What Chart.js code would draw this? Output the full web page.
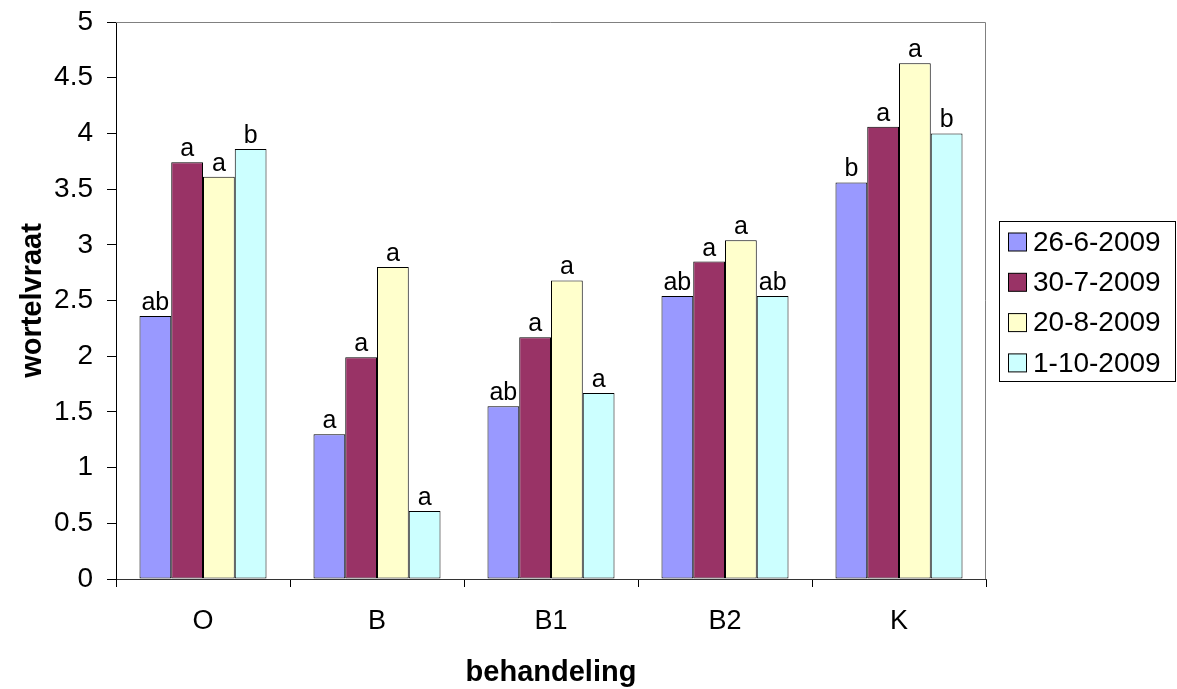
<!DOCTYPE html>
<html>
<head>
<meta charset="utf-8">
<script src="https://cdn.jsdelivr.net/npm/chart.js@4"></script>
<style>
html,body{margin:0;padding:0;background:#fff;}
canvas{display:block;}
</style>
</head>
<body>
<canvas id="c" width="1177" height="689"></canvas>
<script>
const categories = ['O', 'B', 'B1', 'B2', 'K'];
const seriesNames = ['26-6-2009', '30-7-2009', '20-8-2009', '1-10-2009'];
const s1 = [2.36, 1.30, 1.55, 2.54, 3.56];
const s2 = [3.74, 1.99, 2.17, 2.85, 4.06];
const s3 = [3.61, 2.80, 2.68, 3.04, 4.63];
const s4 = [3.86, 0.61, 1.67, 2.54, 4.00];
const letters1 = ['ab', 'a', 'ab', 'ab', 'b'];
const letters2 = ['a', 'a', 'a', 'a', 'a'];
const letters3 = ['a', 'a', 'a', 'a', 'a'];
const letters4 = ['b', 'a', 'a', 'ab', 'b'];
const yTicks = [0, 0.5, 1, 1.5, 2, 2.5, 3, 3.5, 4, 4.5, 5];

const colors = ['#9999FF', '#993366', '#FFFFCC', '#CCFFFF'];
const allSeries = [s1, s2, s3, s4];
const allLetters = [letters1, letters2, letters3, letters4];
const FONT = "'Liberation Sans', Arial, sans-serif";

const extras = {
  id: 'extras',
  beforeDraw(chart) {
    const ctx = chart.ctx;
    ctx.save();
    ctx.fillStyle = '#fff';
    ctx.fillRect(0, 0, chart.width, chart.height);
    ctx.restore();
  },
  afterDatasetsDraw(chart) {
    const ctx = chart.ctx;
    const a = chart.chartArea;
    ctx.save();
    // plot border top/right
    ctx.strokeStyle = '#808080';
    ctx.lineWidth = 1;
    ctx.beginPath();
    ctx.moveTo(a.left, a.top + 0.5);
    ctx.lineTo(a.right - 0.5, a.top + 0.5);
    ctx.lineTo(a.right - 0.5, a.bottom);
    ctx.stroke();
    // data letters
    ctx.fillStyle = '#000';
    ctx.font = '25px ' + FONT;
    ctx.textAlign = 'center';
    ctx.textBaseline = 'alphabetic';
    chart.data.datasets.forEach((ds, i) => {
      const meta = chart.getDatasetMeta(i);
      meta.data.forEach((bar, j) => {
        ctx.fillText(allLetters[i][j], bar.x, bar.y - 6);
      });
    });
    // axis titles
    ctx.font = 'bold 29px ' + FONT;
    ctx.textAlign = 'center';
    ctx.textBaseline = 'alphabetic';
    ctx.fillText('behandeling', (a.left + a.right) / 2, 681);
    ctx.save();
    ctx.translate(41, (a.top + a.bottom) / 2);
    ctx.rotate(-Math.PI / 2);
    ctx.fillText('wortelvraat', 0, 0);
    ctx.restore();
    // legend
    const lx = 999.5, ly = 221.5, lw = 176, lh = 160;
    ctx.strokeStyle = '#000';
    ctx.lineWidth = 1;
    ctx.strokeRect(lx, ly, lw, lh);
    ctx.font = '28px ' + FONT;
    ctx.textAlign = 'left';
    ctx.textBaseline = 'middle';
    chart.data.datasets.forEach((ds, i) => {
      const cy = 242 + i * 40.3;
      ctx.fillStyle = ds.backgroundColor;
      ctx.fillRect(1008.5, cy - 9, 18, 18);
      ctx.strokeRect(1008.5, cy - 9, 18, 18);
      ctx.fillStyle = '#000';
      ctx.fillText(ds.label, 1033, cy + 1);
    });
    ctx.restore();
  }
};

new Chart(document.getElementById('c'), {
  type: 'bar',
  data: {
    labels: categories,
    datasets: seriesNames.map((n, i) => ({
      label: n,
      data: allSeries[i],
      backgroundColor: colors[i],
      borderColor: '#000',
      borderWidth: 1,
      borderSkipped: false,
      categoryPercentage: 0.73,
      barPercentage: 1.0
    }))
  },
  options: {
    responsive: false,
    animation: false,
    devicePixelRatio: 1,
    layout: { padding: { top: 22, right: 191, left: 0, bottom: 0 } },
    plugins: { legend: { display: false }, tooltip: { enabled: false } },
    scales: {
      x: {
        grid: { offset: true, drawOnChartArea: false, drawTicks: true, tickLength: 8, tickColor: '#000' },
        border: { color: '#333', width: 1 },
        ticks: { color: '#000', font: { family: FONT, size: 27 }, padding: 18 },
        afterFit: s => { s.height = 110; s.paddingLeft = 0; s.paddingRight = 0; }
      },
      y: {
        min: 0,
        max: 5,
        afterBuildTicks: s => { s.ticks = yTicks.map(v => ({ value: v })); },
        grid: { drawOnChartArea: false, drawTicks: true, tickLength: 9, tickColor: '#000' },
        border: { color: '#000', width: 1 },
        ticks: {
          color: '#000',
          font: { family: FONT, size: 28 },
          padding: 14,
          callback: v => String(v)
        },
        afterFit: s => { s.width = 116; s.paddingTop = 0; s.paddingBottom = 0; }
      }
    }
  },
  plugins: [extras]
});
</script>
</body>
</html>
